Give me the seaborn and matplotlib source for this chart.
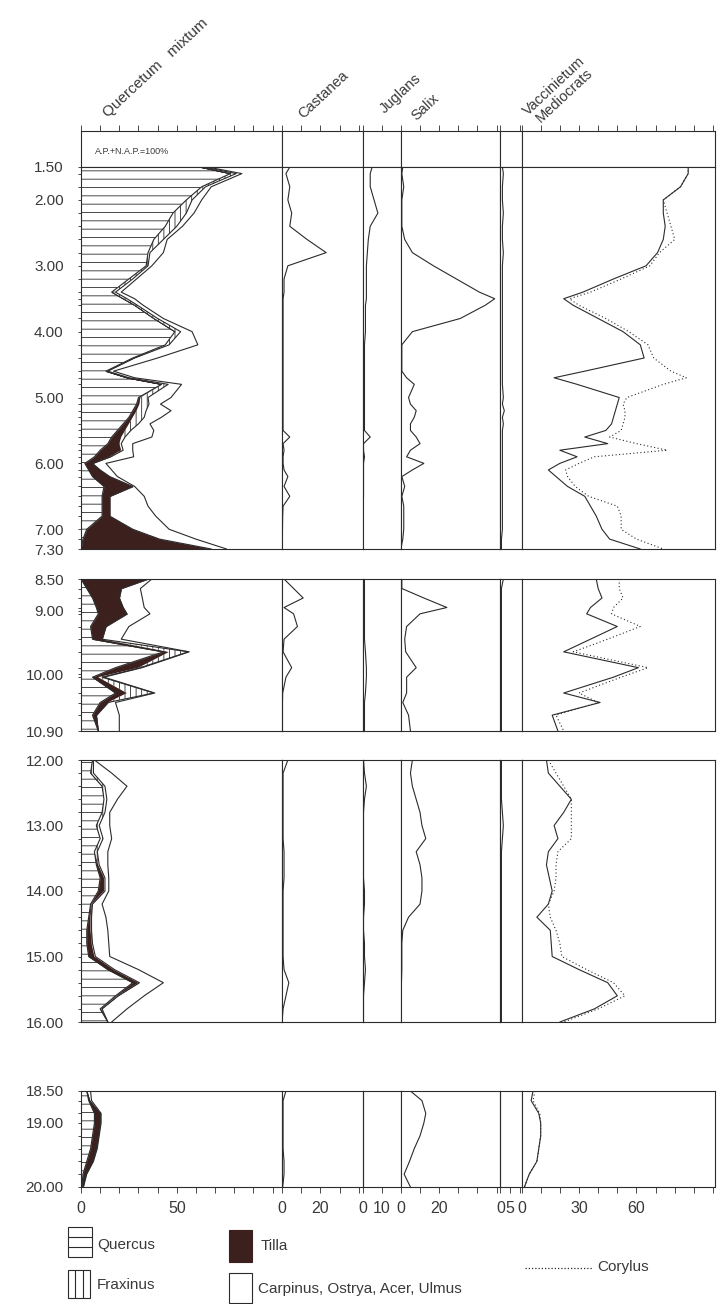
import numpy as np
import matplotlib
matplotlib.use("Agg")
import matplotlib.pyplot as plt
import seaborn as sns
from matplotlib.patches import Rectangle

# ==================== style ====================
sns.set_style("white")
plt.rcParams["font.family"] = ["Liberation Sans", "DejaVu Sans"]
plt.rcParams["hatch.linewidth"] = 0.6
plt.rcParams["hatch.color"] = "#2b2b2b"

INK = "#2b2b2b"
TEXT = "#3a3a3a"
TILIA_COLOR = "#3b201e"

# ==================== data (percent of A.P.+N.A.P.) ====================
# section 1 : 1.50 - 7.30 m
DEPTH_1 = [1.50, 1.60, 1.80, 2.00, 2.20, 2.40, 2.60, 2.80, 3.00, 3.20, 3.40, 3.50, 3.60, 3.80,
           4.00, 4.20, 4.40, 4.60, 4.70, 4.80, 5.00, 5.10, 5.20, 5.30, 5.40, 5.50, 5.60, 5.70,
           5.80, 5.90, 6.00, 6.10, 6.20, 6.35, 6.50, 6.65, 6.80, 7.00, 7.15, 7.30]
QUERCUS_1 = [62, 78, 63, 55, 48, 44, 38, 35, 34, 25, 16, 22, 28, 38, 49, 44, 27, 13, 24, 42,
             30, 29, 27, 25, 22, 19, 16, 14, 10, 7, 2, 4, 6, 12, 11, 11, 11, 3, 1, 0]
TILIA_1 = [0, 0, 0, 0, 0, 0, 0, 0, 0, 0, 0, 0, 0, 0, 0, 0, 0, 0, 0, 0.5,
           1, 1.5, 2, 2, 3, 4, 5, 6, 11, 8, 4, 6, 9, 15, 4, 4, 4, 24, 40, 68]
FRAXINUS_1 = [2, 3, 2, 3, 7, 6, 5, 1, 1, 2, 2, 2, 1.5, 2, 3, 2, 1, 1, 1, 3,
              4, 5, 5, 6, 5, 3, 2, 1, 1, 0.5, 0, 0, 0, 0, 0, 0, 0, 0, 0, 0]
CARPINUS_1 = [2, 3, 3, 5, 4, 3, 2, 7, 2, 2, 3, 4, 3, 3, 6, 15, 12, 3, 3, 7,
              12, 6, 13, 9, 6, 12, 14, 6, 5, 12, 7, 6, 4, 1, 18, 20, 24, 19, 19, 8]
CASTANEA_1 = [4, 2, 4, 3, 5, 4, 13, 23, 3, 1, 1, 0.5, 0.5, 0.5, 0.5, 0.5, 0.5, 0.5, 0.5, 0.5,
              0.5, 0.5, 0.5, 0.5, 0.5, 0.5, 4, 0.5, 1, 0.5, 0.5, 1, 3, 1, 4, 0.5, 0.3, 0.2, 0, 0]
JUGLANS_1 = [5, 4, 4, 6, 8, 4, 3, 2.5, 2, 2, 2, 2, 1.5, 1.5, 1.5, 1, 1, 1, 1, 1,
             1, 1, 1, 1, 1, 1, 4, 0.5, 0.5, 1, 0.5, 0.5, 0.5, 0.5, 0.5, 0.3, 0.3, 0.2, 0.2, 0]
SALIX_1 = [1, 0.5, 1.5, 0.5, 0.5, 0.5, 2, 6, 17, 29, 41, 49, 44, 31, 6, 0.5, 0.5, 0.5, 3, 7,
           4, 5, 8, 7, 5, 5, 8, 10, 5, 3, 12, 6, 0.5, 2, 0.5, 1.5, 1.5, 1.5, 1, 0]
VACC_1 = [1, 1.5, 1, 1, 1.5, 1, 1, 1.5, 1, 1, 1, 1, 1, 1, 1, 1, 1, 1, 1, 1,
          1.5, 1, 2, 1, 1.5, 1, 1, 1, 1, 1, 1, 1, 1, 1, 1, 1, 1, 1, 0.5, 0.5]
MEDIO_1 = [87, 87, 83, 74, 74, 75, 74, 71, 65, 48, 32, 22, 27, 40, 53, 62, 64, 33, 17, 29,
           51, 50, 49, 48, 47, 44, 33, 45, 20, 29, 20, 14, 18, 24, 33, 36, 39, 42, 46, 62]
CORYLUS_1 = [87, 87, 83, 74, 76, 78, 80, 72, 67, 52, 36, 25, 30, 44, 56, 66, 69, 78, 86, 74,
             55, 53, 54, 54, 53, 52, 46, 60, 76, 38, 30, 23, 24, 28, 35, 50, 52, 52, 60, 74]

# section 2 : 8.50 - 10.90 m
DEPTH_2 = [8.50, 8.65, 8.80, 8.95, 9.05, 9.25, 9.45, 9.65, 9.90, 10.05, 10.30, 10.45, 10.65, 10.90]
QUERCUS_2 = [0, 3, 6, 8, 9, 5, 6, 43, 18, 6, 18, 10, 6, 9]
TILIA_2 = [35, 18, 14, 14, 15, 8, 5, 3, 12, 3, 6, 4, 2, 0]
FRAXINUS_2 = [0, 0, 0, 0, 0, 0, 0, 10, 1, 2, 14, 0, 0, 0]
CARPINUS_2 = [2, 10, 12, 11, 12, 12, 10, 0.5, 1, 1, 0.5, 4, 12, 11]
CASTANEA_2 = [1, 6, 11, 1, 6, 8, 1, 0.5, 5, 2, 0.3, 0.2, 0.2, 0.2]
JUGLANS_2 = [1, 1, 1, 1, 1, 1, 1, 1.5, 2, 2, 1.5, 1, 1, 1]
SALIX_2 = [0.5, 0.5, 12, 24, 10, 3, 2, 2.5, 8, 3, 3, 1, 4, 5]
VACC_2 = [1.5, 0.5, 0.5, 0.5, 0.5, 0.5, 0.5, 0.5, 0.5, 0.5, 0.5, 0.5, 0.5, 0.5]
MEDIO_2 = [39, 40, 42, 36, 34, 50, 36, 22, 61, 48, 22, 41, 16, 19]
CORYLUS_2 = [51, 51, 53, 48, 47, 62, 45, 27, 66, 52, 30, 40, 18, 22]

# section 3 : 12.00 - 16.00 m
DEPTH_3 = [12.00, 12.20, 12.40, 12.60, 12.80, 13.00, 13.20, 13.40, 13.60, 13.80, 14.00,
           14.20, 14.40, 14.60, 14.80, 15.00, 15.20, 15.40, 15.60, 15.80, 16.00]
QUERCUS_3 = [6, 5, 11, 12, 11, 8, 10, 7, 8, 10, 9, 5, 4, 3, 3, 4, 14, 27, 18, 10, 14]
TILIA_3 = [0, 0, 0, 0, 0, 0, 0, 0, 1, 2, 3, 0.5, 1, 2, 2.5, 3, 3, 3, 1, 0.5, 0]
FRAXINUS_3 = [0.5, 1.5, 1.5, 1.5, 1.5, 1.5, 1.5, 1.5, 0.5, 0.5, 0.5, 0.5, 0.5, 0.5, 0.5,
              0.5, 0.5, 0.5, 0.5, 0.5, 0]
CARPINUS_3 = [0.5, 9.5, 11.5, 5.5, 2.5, 5.5, 4.5, 5.5, 4.5, 2, 2, 5, 7.5, 8.5, 8.5, 7.5,
              12.5, 12.5, 13.5, 13, 2]
CASTANEA_3 = [3, 0.5, 0.5, 0.5, 0.5, 0.5, 0.5, 1, 1, 1, 0.5, 0.5, 0.5, 0.5, 0.5, 0.5, 1, 3.5, 2, 0.5, 0]
JUGLANS_3 = [0.5, 1, 2, 1, 0.5, 0.5, 0.5, 0.5, 0.5, 0.5, 1, 1, 0.5, 0.5, 1, 1, 1.5, 1, 0.5, 0.5, 0.5]
SALIX_3 = [6, 5, 6, 8, 10, 11, 13, 8, 10, 11, 11, 10, 4, 1, 0.5, 0.5, 0.5, 0.3, 0.3, 0.3, 0.3]
VACC_3 = [0.5, 0.5, 0.5, 0.5, 1, 1.5, 1, 0.5, 0.5, 0.5, 0.5, 0.5, 0.5, 0.5, 0.5, 0.5, 0.5,
          0.5, 0.5, 0.5, 0.5]
MEDIO_3 = [13, 14, 20, 26, 22, 17, 19, 14, 13, 14.5, 16, 14, 8, 15, 15.5, 16, 30, 45, 50, 38, 20]
CORYLUS_3 = [14, 18, 22, 26, 26, 26, 26, 19, 18, 18, 17, 14, 15, 18, 20, 21, 34, 48, 54, 40, 22]

# section 4 : 18.50 - 20.00 m
DEPTH_4 = [18.50, 18.65, 18.85, 19.00, 19.20, 19.40, 19.60, 19.80, 20.00]
QUERCUS_4 = [3, 4, 7, 7, 6, 5, 3, 1, 0.5]
TILIA_4 = [0, 0.5, 3, 3, 3, 3, 3, 1.5, 0.5]
FRAXINUS_4 = [0, 0, 0, 0, 0, 0, 0, 0, 0]
CARPINUS_4 = [2, 1, 0.5, 0.5, 0.5, 0.5, 0.5, 0.5, 0.3]
CASTANEA_4 = [2, 0.5, 0.5, 0.5, 0.5, 0.5, 1, 1, 0.3]
JUGLANS_4 = [0, 0, 0, 0, 0, 0, 0, 0, 0]
SALIX_4 = [5, 11, 13, 12, 10, 7, 4.5, 1.7, 5]
VACC_4 = [0, 0, 0, 0, 0, 0, 0, 0, 0]
MEDIO_4 = [6, 5, 9, 10, 10, 9, 8, 4, 1.5]
CORYLUS_4 = [7, 6, 9.5, 10, 10, 9, 8, 4, 1.5]

DEPTH_LABELS = [
    [1.50, 2.00, 3.00, 4.00, 5.00, 6.00, 7.00, 7.30],
    [8.50, 9.00, 10.00, 10.90],
    [12.00, 13.00, 14.00, 15.00, 16.00],
    [18.50, 19.00, 20.00],
]
SECTION_RANGE = [(1.50, 7.30), (8.50, 10.90), (12.00, 16.00), (18.50, 20.00)]

COLUMN_NAMES = ["Quercetum", "Castanea", "Juglans", "Salix", "Vaccinietum", "Mediocrats"]
COLUMN_MAX = [105, 42, 20, 52, 11, 101]
BOTTOM_LABELS = [[0, 50], [0, 20], [0, 10], [0, 20], [0, 5], [0, 30, 60]]

sections = [
    dict(depth=DEPTH_1, q=QUERCUS_1, t=TILIA_1, f=FRAXINUS_1, c=CARPINUS_1,
         cols=[CASTANEA_1, JUGLANS_1, SALIX_1, VACC_1, MEDIO_1], cor=CORYLUS_1),
    dict(depth=DEPTH_2, q=QUERCUS_2, t=TILIA_2, f=FRAXINUS_2, c=CARPINUS_2,
         cols=[CASTANEA_2, JUGLANS_2, SALIX_2, VACC_2, MEDIO_2], cor=CORYLUS_2),
    dict(depth=DEPTH_3, q=QUERCUS_3, t=TILIA_3, f=FRAXINUS_3, c=CARPINUS_3,
         cols=[CASTANEA_3, JUGLANS_3, SALIX_3, VACC_3, MEDIO_3], cor=CORYLUS_3),
    dict(depth=DEPTH_4, q=QUERCUS_4, t=TILIA_4, f=FRAXINUS_4, c=CARPINUS_4,
         cols=[CASTANEA_4, JUGLANS_4, SALIX_4, VACC_4, MEDIO_4], cor=CORYLUS_4),
]

# ==================== layout (pixels) ====================
FIG_W, FIG_H = 720, 1304
X_LEFT, X_RIGHT = 81, 715
PX_PER_PCT = (X_RIGHT - X_LEFT) / sum(COLUMN_MAX)
EDGES = X_LEFT + np.concatenate([[0], np.cumsum(COLUMN_MAX)]) * PX_PER_PCT
HEADER_Y = (131, 167)
ROW_Y = [(167, 549), (579, 731), (760, 1022), (1091, 1187)]

fig = plt.figure(figsize=(FIG_W / 100, FIG_H / 100), dpi=100)


def px_axes(x0, y0, x1, y1):
    return fig.add_axes([x0 / FIG_W, 1 - y1 / FIG_H, (x1 - x0) / FIG_W, (y1 - y0) / FIG_H])


def frame(ax):
    for sp in ax.spines.values():
        sp.set_color(INK)
        sp.set_linewidth(0.8)
    ax.tick_params(which="both", left=False, bottom=False, top=False, right=False,
                   labelleft=False, labelbottom=False, labeltop=False)
    ax.set_xlabel("")
    ax.set_ylabel("")


def curve(ax, vals, depth, **kw):
    sns.lineplot(x=vals, y=depth, orient="y", sort=False, estimator=None,
                 color=INK, linewidth=0.8, ax=ax, **kw)


# header strip with ruler ticks
for c in range(6):
    ax = px_axes(EDGES[c], HEADER_Y[0], EDGES[c + 1], HEADER_Y[1])
    ax.set_xlim(0, COLUMN_MAX[c])
    ax.set_ylim(0, 1)
    frame(ax)
    ax.set_xticks(np.arange(0, COLUMN_MAX[c], 10))
    ax.tick_params(axis="x", top=True, direction="out", length=4, width=0.6, color=INK)

for r, sec in enumerate(sections):
    d = np.array(sec["depth"])
    top, bot = SECTION_RANGE[r]
    for c in range(6):
        ax = px_axes(EDGES[c], ROW_Y[r][0], EDGES[c + 1], ROW_Y[r][1])
        if c == 0:
            q = np.array(sec["q"], float)
            qt = q + np.array(sec["t"])
            qtf = qt + np.array(sec["f"])
            tot = qtf + np.array(sec["c"])
            ax.fill_betweenx(d, 0, q, facecolor="white", edgecolor=INK, hatch="--", linewidth=0)
            ax.fill_betweenx(d, q, qt, facecolor=TILIA_COLOR, edgecolor=TILIA_COLOR, linewidth=0.4)
            ax.fill_betweenx(d, qt, qtf, facecolor="white", edgecolor=INK, hatch="|||", linewidth=0)
            for arr in (q, qtf, tot):
                curve(ax, arr, d)
        else:
            curve(ax, sec["cols"][c - 1], d)
            if c == 5:
                curve(ax, sec["cor"], d, linestyle=(0, (1, 2.2)))
        ax.set_xlim(0, COLUMN_MAX[c])
        ax.set_ylim(bot, top)
        frame(ax)
        if c == 0:
            ax.set_yticks(DEPTH_LABELS[r])
            ax.set_yticklabels([f"{v:.2f}" for v in DEPTH_LABELS[r]])
            ax.set_yticks(d, minor=True)
            ax.tick_params(axis="y", which="both", left=True, labelleft=True, direction="out",
                           length=2.5, width=0.6, color=INK, pad=10, labelsize=11,
                           labelcolor=TEXT)
        if r == len(sections) - 1:
            ax.set_xticks(BOTTOM_LABELS[c])
            ax.set_xticklabels([str(v) for v in BOTTOM_LABELS[c]])
            ax.set_xticks(np.arange(0, COLUMN_MAX[c], 10), minor=True)
            ax.tick_params(axis="x", which="both", bottom=True, labelbottom=True,
                           direction="out", length=4, width=0.6, color=INK, pad=6,
                           labelsize=11.5, labelcolor=TEXT)

# ==================== overlay: titles and legend ====================
lay = fig.add_axes([0, 0, 1, 1])
lay.set_xlim(0, FIG_W)
lay.set_ylim(FIG_H, 0)
lay.axis("off")

titles = [("Quercetum   mixtum", 108, 118, 11), ("Castanea", 303, 119, 10.5),
          ("Juglans", 385, 114, 10.5), ("Salix", 416, 121, 10.5),
          ("Vaccinietum", 528, 116, 10.5), ("Mediocrats", 541, 123, 10.5)]
for txt, tx, ty, fs in titles:
    lay.text(tx, ty, txt, rotation=43, rotation_mode="anchor", ha="left", va="baseline",
             fontsize=fs, color=TEXT)

lay.text(EDGES[0] + 14, 152, "A.P.+N.A.P.=100%", fontsize=6.5, color=TEXT, va="center")

# legend swatches
lay.add_patch(Rectangle((68, 1227), 24, 30, fill=False, ec=INK, lw=0.8))
lay.hlines([1237, 1247], 68, 92, color=INK, lw=0.8)
lay.text(97, 1245, "Quercus", fontsize=11, color=TEXT, va="center")

lay.add_patch(Rectangle((68, 1270), 22, 28, fill=False, ec=INK, lw=0.8))
lay.vlines([75.3, 82.7], 1270, 1298, color=INK, lw=0.8)
lay.text(97, 1285, "Fraxinus", fontsize=11, color=TEXT, va="center")

lay.add_patch(Rectangle((229, 1230), 23, 32, fc=TILIA_COLOR, ec=TILIA_COLOR, lw=0.8))
lay.text(261, 1246, "Tilla", fontsize=11, color=TEXT, va="center")

lay.add_patch(Rectangle((229, 1273), 23, 30, fill=False, ec=INK, lw=0.8))
lay.text(258, 1289, "Carpinus, Ostrya, Acer, Ulmus", fontsize=11, color=TEXT, va="center")

lay.plot([525, 592], [1268, 1268], color=INK, lw=0.9, linestyle=(0, (1, 1.6)))
lay.text(597, 1267, "Corylus", fontsize=11, color=TEXT, va="center")

fig.savefig("out.png", dpi=100, facecolor="white")
